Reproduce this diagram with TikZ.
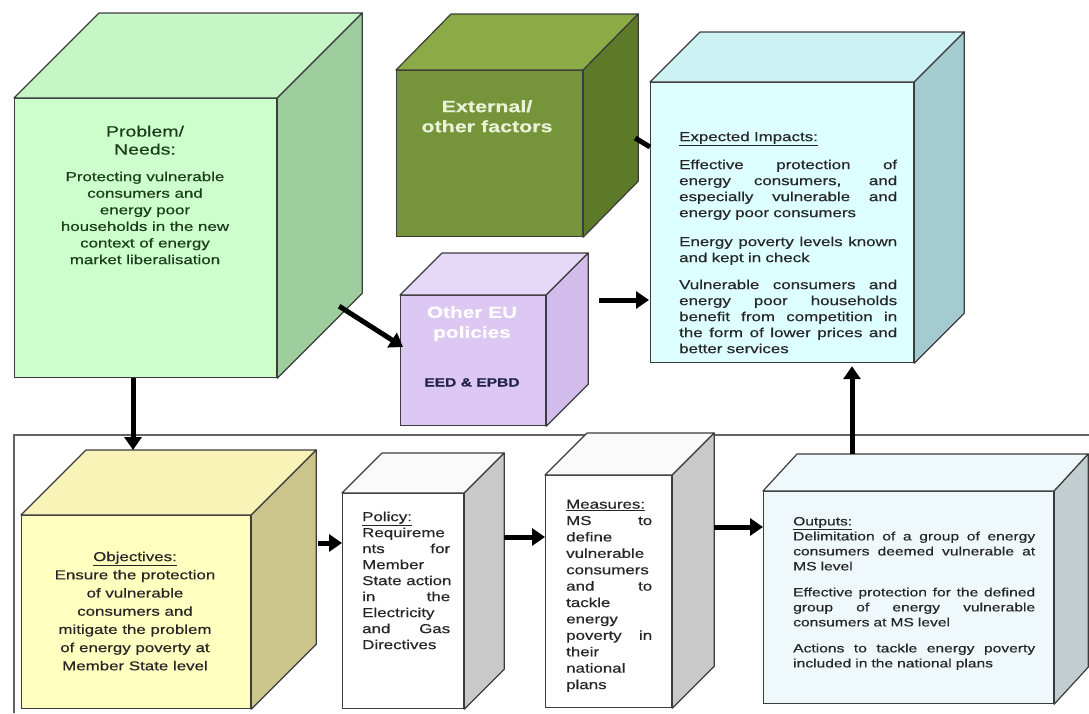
\documentclass[tikz,border=0pt]{standalone}
\usepackage{fontspec}
\setmainfont{Liberation Sans}[FakeStretch=1.3, FakeBold=0.4]
\usetikzlibrary{arrows.meta,positioning,calc}

\definecolor{probfront}{HTML}{CCFFCC}
\definecolor{probtop}{HTML}{C6F5C6}
\definecolor{probside}{HTML}{9ECD9E}
\definecolor{probink}{HTML}{1B3B1B}
\definecolor{extfront}{HTML}{76943A}
\definecolor{exttop}{HTML}{8AAB46}
\definecolor{extside}{HTML}{5C7A28}
\definecolor{extink}{HTML}{EAF2D8}
\definecolor{oeufront}{HTML}{DCC8F2}
\definecolor{oeutop}{HTML}{E6D8F7}
\definecolor{oeuside}{HTML}{D2BCEC}
\definecolor{oeuink}{HTML}{23234F}
\definecolor{expfront}{HTML}{DDFFFF}
\definecolor{exptop}{HTML}{CCF2F4}
\definecolor{expside}{HTML}{A4CBCF}
\definecolor{objfront}{HTML}{FFFFC0}
\definecolor{objtop}{HTML}{F8F3B6}
\definecolor{objside}{HTML}{CBC58B}
\definecolor{plaintop}{HTML}{FAFAFA}
\definecolor{grayside}{HTML}{C9C9C9}
\definecolor{outfront}{HTML}{EFF8FB}
\definecolor{outside}{HTML}{C2CDD0}
\definecolor{edge}{HTML}{3C3C3C}
\definecolor{ink}{HTML}{262626}

\tikzset{
  face/.style={draw=edge, line width=1.2pt, inner sep=0pt, anchor=north west},
  cubeline/.style={draw=edge, line width=1.2pt, line join=round},
  txt/.style={inner sep=0pt, text=ink, font=\fontsize{13}{16}\selectfont},
  bigarrow/.style={line width=5pt, -{Triangle[length=13pt,width=17pt]}},
  bigline/.style={line width=5pt},
  frameline/.style={draw=edge!80, line width=1.6pt}
}

\newcommand{\cubefaces}[5]{%
  \draw[cubeline, fill=#4] (#1.north west) -- ++(#2,#3) -- ($(#1.north east)+(#2,#3)$) -- (#1.north east) -- cycle;
  \draw[cubeline, fill=#5] (#1.north east) -- ++(#2,#3) -- ($(#1.south east)+(#2,#3)$) -- (#1.south east) -- cycle;
}
\newcommand{\jl}[2]{{\spaceskip=\fontdimen2\font plus 1fill\relax\makebox[#1][s]{#2}}}

\begin{document}
\begin{tikzpicture}[x=1pt, y=-1pt]
\useasboundingbox (0,0) rectangle (1089,713);

\coordinate (frametl) at (14,435);
\coordinate (framebl) at (14,713);
\coordinate (frametr) at (1089,435);
\draw[frameline] (framebl) -- (frametl) -- (frametr);

\node[face, fill=probfront, minimum width=262, minimum height=279] (prob) at (14,98) {};
\cubefaces{prob}{85}{-85}{probtop}{probside}
\node[txt, text=probink, font=\fontsize{15}{18}\selectfont, align=center, anchor=north] (probtitle) at (145,125.5) {Problem/\\Needs:};
\node[txt, text=probink, font=\fontsize{13}{16.6}\selectfont, align=center, anchor=north] (probtext) at (145,171.5)
  {Protecting vulnerable\\consumers and\\energy poor\\households in the new\\context of energy\\market liberalisation};

\node[face, fill=extfront, minimum width=186, minimum height=166] (ext) at (396,70) {};
\cubefaces{ext}{55}{-56}{exttop}{extside}
\node[txt, text=extink, font=\bfseries\fontsize{16.5}{20}\selectfont, align=center, anchor=north] (exttext) at (487,100) {External/\\other factors};

\node[face, fill=oeufront, minimum width=145, minimum height=130] (oeu) at (400,295) {};
\cubefaces{oeu}{42}{-42}{oeutop}{oeuside}
\node[txt, text=white, font=\bfseries\fontsize{16}{20}\selectfont, align=center, anchor=north] (oeutitle) at (472,306) {Other EU\\policies};
\node[txt, text=oeuink, font=\bfseries\fontsize{12}{14}\selectfont, anchor=north] (oeutext) at (472,378) {EED \& EPBD};

\node[face, fill=expfront, minimum width=263, minimum height=280] (exp) at (650,82) {};
\cubefaces{exp}{50}{-50}{exptop}{expside}
\node[txt, text width=218, align=left, anchor=north west] (exptext) at (679,131.5)
  {\underline{Expected Impacts:}\\[12pt]
   \jl{218pt}{Effective protection of}\\
   \jl{218pt}{energy consumers, and}\\
   \jl{218pt}{especially vulnerable and}\\
   energy poor consumers\\[13pt]
   \jl{218pt}{Energy poverty levels known}\\
   and kept in check\\[11pt]
   \jl{218pt}{Vulnerable consumers and}\\
   \jl{218pt}{energy poor households}\\
   \jl{218pt}{benefit from competition in}\\
   \jl{218pt}{the form of lower prices and}\\
   better services};

\node[face, fill=objfront, minimum width=229, minimum height=193] (obj) at (21,515) {};
\cubefaces{obj}{65}{-65}{objtop}{objside}
\node[txt, font=\fontsize{13}{18.2}\selectfont, align=center, anchor=north] (objtext) at (135,551.5)
  {\underline{Objectives:}\\Ensure the protection\\of vulnerable\\consumers and\\mitigate the problem\\of energy poverty at\\Member State level};

\node[face, fill=white, minimum width=121, minimum height=215] (pol) at (342,493) {};
\cubefaces{pol}{40}{-40}{plaintop}{grayside}
\node[txt, text width=88, align=left, anchor=north west] (poltext) at (362,511.5)
  {\underline{Policy:}\\
   Requireme\\
   \jl{88pt}{nts for}\\
   Member\\
   \jl{88pt}{State action}\\
   \jl{88pt}{in the}\\
   Electricity\\
   \jl{88pt}{and Gas}\\
   Directives};

\node[face, fill=white, minimum width=126, minimum height=232] (mea) at (545,475) {};
\cubefaces{mea}{42}{-42}{plaintop}{grayside}
\node[txt, font=\fontsize{13}{16.4}\selectfont, text width=86, align=left, anchor=north west] (meatext) at (566,499.5)
  {\underline{Measures:}\\
   \jl{86pt}{MS to}\\
   define\\
   vulnerable\\
   consumers\\
   \jl{86pt}{and to}\\
   tackle\\
   energy\\
   \jl{86pt}{poverty in}\\
   their\\
   national\\
   plans};

\node[face, fill=outfront, minimum width=290, minimum height=212] (out) at (763,491) {};
\cubefaces{out}{34}{-37}{outfront}{outside}
\node[txt, font=\fontsize{12}{15}\selectfont, text width=242, align=left, anchor=north west] (outtext) at (793,516.8)
  {\underline{Outputs:}\\
   \jl{242pt}{Delimitation of a group of energy}\\
   \jl{242pt}{consumers deemed vulnerable at}\\
   MS level\\[11pt]
   \jl{242pt}{Effective protection for the defined}\\
   \jl{242pt}{group of energy vulnerable}\\
   consumers at MS level\\[11pt]
   \jl{242pt}{Actions to tackle energy poverty}\\
   included in the national plans};

\draw[bigarrow] ($(prob.south west)+(119,0)$) -- ($(obj.north west)+(112,-65)$);
\draw[bigarrow] ($(prob.south east)+(62,-72)$) -- ($(oeu.north west)+(3,52)$);
\draw[bigarrow] ($(oeu.north east)+(53,5)$) -- ($(exp.north west)+(-1,218)$);
\draw[bigline] ($(ext.north east)+(52,68)$) -- ($(exp.north west)+(0,65)$);
\draw[bigarrow] ($(obj.north east)+(67,28)$) -- ($(pol.north west)+(0,50)$);
\draw[bigarrow] ($(pol.north east)+(40,44)$) -- ($(mea.north west)+(0,62)$);
\draw[bigarrow] ($(mea.north east)+(42,52)$) -- ($(out.north west)+(0,36)$);
\draw[bigarrow] ($(out.north west)+(89,-37)$) -- ($(exp.south west)+(202,3)$);
\end{tikzpicture}
\end{document}
